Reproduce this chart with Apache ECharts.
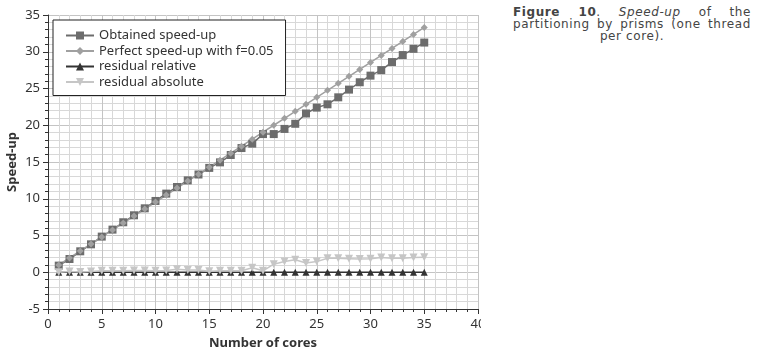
<!DOCTYPE html>
<html>
<head>
<meta charset="utf-8">
<script src="https://cdn.jsdelivr.net/npm/echarts@6/dist/echarts.min.js"></script>
<style>
body { margin: 0; background: #fff; }
#wrap { position: relative; width: 765px; height: 354px; }
#chart { position: absolute; left: 0; top: 0; width: 481px; height: 354px; overflow: hidden; }
.caption {
    position: absolute; left: 513px; top: 7px; width: 238px;
    font-family: "DejaVu Sans", Verdana, sans-serif; font-size: 12px; line-height: 11.8px;
    letter-spacing: 0.6px;
    color: #444; text-align: justify; text-align-last: center;
}
</style>
</head>
<body>
<div id="wrap">
    <div id="chart"></div>
    <div class="caption"><b>Figure 10</b>. <i>Speed-up</i> of the partitioning by prisms (one thread per core).</div>
</div>
<script>
// cores 1..35
let cores = [];
for (let i = 1; i <= 35; i++) cores.push(i);

let obtained = [0.9, 1.8, 2.85, 3.8, 4.85, 5.8, 6.8, 7.75, 8.7, 9.7, 10.7, 11.6, 12.5, 13.3, 14.2, 14.95,
    15.95, 16.9, 17.5, 18.8, 18.8, 19.5, 20.2, 21.6, 22.4, 22.85, 23.8, 24.85, 25.85, 26.75, 27.5, 28.6,
    29.55, 30.4, 31.25];
let perfect = [1, 1.95, 2.9, 3.85, 4.8, 5.75, 6.7, 7.65, 8.6, 9.55, 10.5, 11.45, 12.4, 13.35, 14.3, 15.25,
    16.2, 17.15, 18.1, 19.05, 20, 20.95, 21.9, 22.85, 23.8, 24.75, 25.7, 26.65, 27.6, 28.55, 29.5, 30.45,
    31.4, 32.35, 33.3];
let resRelative = [0, 0, 0, 0, 0, 0, 0, 0, 0, 0, 0, 0, 0, 0, 0, 0, 0, 0, 0, 0,
    0, 0, 0, 0, 0, 0, 0, 0, 0, 0, 0, 0, 0, 0, 0];
let resAbsolute = [0, 0.1, 0.05, 0.1, 0.2, 0.2, 0.2, 0.25, 0.25, 0.2, 0.25, 0.4, 0.3, 0.3, 0.15, 0.2,
    0.2, 0.2, 0.6, 0.2, 1.1, 1.45, 1.7, 1.25, 1.45, 1.9, 1.9, 1.85, 1.8, 1.85, 2.0, 1.9,
    1.9, 2.0, 2.05];

let names = ["Obtained speed-up", "Perfect speed-up with f=0.05", "residual relative", "residual absolute"];

function pts(arr) {
    return arr.map((v, i) => [cores[i], v]);
}

let font = "Noto Sans";
let myChart = echarts.init(document.getElementById("chart"));
let option = {
    animation: false,
    textStyle: { fontFamily: font },
    grid: { left: 48, top: 15, width: 430, height: 294, show: false, outerBoundsMode: "none", containLabel: false },
    legend: {
        data: names,
        orient: "vertical",
        left: 53, top: 20,
        backgroundColor: "#fff",
        borderColor: "#222", borderWidth: 1, borderRadius: 0,
        padding: [8, 12, 6, 12],
        itemWidth: 28, itemHeight: 10, itemGap: 0.5,
        textStyle: { fontFamily: font, fontSize: 13, lineHeight: 15, color: "#333" }
    },
    xAxis: {
        type: "value", min: 0, max: 40, interval: 5,
        name: "Number of cores", nameLocation: "middle", nameGap: 28, nameMoveOverlap: false,
        nameTextStyle: { fontFamily: font, fontSize: 13, fontWeight: "bold", color: "#333" },
        axisLine: { onZero: false, lineStyle: { color: "#333" } },
        axisTick: { length: 5, lineStyle: { color: "#333" } },
        minorTick: { show: true, splitNumber: 5, length: 3, lineStyle: { color: "#333" } },
        axisLabel: { fontSize: 13, color: "#333", margin: 9 },
        splitLine: { show: true, lineStyle: { color: "#c4c4c4" } },
        minorSplitLine: { show: true, lineStyle: { color: "#d8d8d8" } }
    },
    yAxis: {
        type: "value", min: -5, max: 35, interval: 5,
        name: "Speed-up", nameLocation: "middle", nameGap: 29, nameMoveOverlap: false,
        nameTextStyle: { fontFamily: font, fontSize: 13, fontWeight: "bold", color: "#333" },
        axisLine: { show: true, lineStyle: { color: "#333" } },
        axisTick: { show: true, length: 5, lineStyle: { color: "#333" } },
        minorTick: { show: true, splitNumber: 5, length: 3, lineStyle: { color: "#333" } },
        axisLabel: { fontSize: 13, color: "#333", margin: 8 },
        splitLine: { show: true, lineStyle: { color: "#c4c4c4" } },
        minorSplitLine: { show: true, lineStyle: { color: "#d8d8d8" } }
    },
    series: [
        {
            name: names[0], type: "line", data: pts(obtained),
            symbol: "rect", symbolSize: 8,
            itemStyle: { color: "#6c6c6c" }, lineStyle: { color: "#6c6c6c", width: 1.5 }
        },
        {
            name: names[1], type: "line", data: pts(perfect),
            symbol: "diamond", symbolSize: 7,
            itemStyle: { color: "#a0a0a0" }, lineStyle: { color: "#a0a0a0", width: 1.5 }
        },
        {
            name: names[2], type: "line", data: pts(resRelative),
            symbol: "triangle", symbolSize: 7,
            itemStyle: { color: "#333" }, lineStyle: { color: "#333", width: 1.5 }
        },
        {
            name: names[3], type: "line", data: pts(resAbsolute),
            symbol: "triangle", symbolRotate: 180, symbolSize: 8,
            itemStyle: { color: "#c6c6c6" }, lineStyle: { color: "#c6c6c6", width: 1.5 }
        }
    ]
};
myChart.setOption(option);
</script>
</body>
</html>
